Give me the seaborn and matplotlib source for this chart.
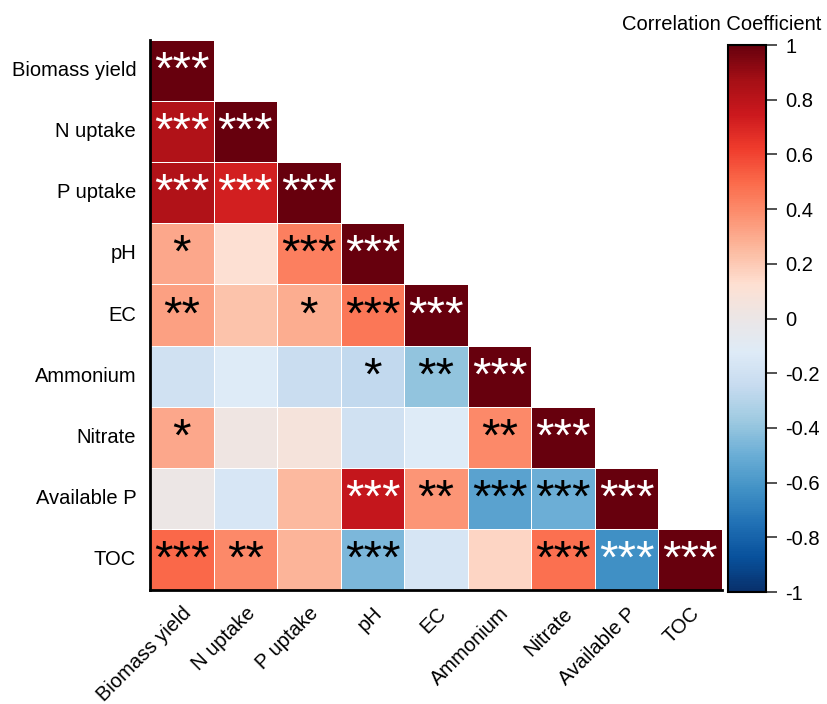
import numpy as np
import pandas as pd
import matplotlib
matplotlib.use("Agg")
import matplotlib.pyplot as plt
from matplotlib.colors import LinearSegmentedColormap
import seaborn as sns

variables = ["Biomass yield", "N uptake", "P uptake", "pH", "EC",
             "Ammonium", "Nitrate", "Available P", "TOC"]

# Lower-triangle Pearson coefficients, one list per row
r_biomass = [1.0]
r_n_uptake = [0.83, 1.0]
r_p_uptake = [0.83, 0.72, 1.0]
r_ph = [0.31, 0.12, 0.43, 1.0]
r_ec = [0.33, 0.22, 0.29, 0.46, 1.0]
r_ammonium = [-0.20, -0.12, -0.23, -0.26, -0.40, 1.0]
r_nitrate = [0.31, 0.03, 0.07, -0.20, -0.12, 0.40, 1.0]
r_avail_p = [0.00, -0.16, 0.25, 0.77, 0.36, -0.55, -0.50, 1.0]
r_toc = [0.50, 0.40, 0.27, -0.46, -0.17, 0.16, 0.48, -0.63, 1.0]

# Significance stars, same layout
s_biomass = ["***"]
s_n_uptake = ["***", "***"]
s_p_uptake = ["***", "***", "***"]
s_ph = ["*", "", "***", "***"]
s_ec = ["**", "", "*", "***", "***"]
s_ammonium = ["", "", "", "*", "**", "***"]
s_nitrate = ["*", "", "", "", "", "**", "***"]
s_avail_p = ["", "", "", "***", "**", "***", "***", "***"]
s_toc = ["***", "**", "", "***", "", "", "***", "***", "***"]

cbar_ticks = [-1, -0.8, -0.6, -0.4, -0.2, 0, 0.2, 0.4, 0.6, 0.8, 1]
cbar_labels = ["-1", "-0.8", "-0.6", "-0.4", "-0.2", "0",
               "0.2", "0.4", "0.6", "0.8", "1"]

r_rows = [r_biomass, r_n_uptake, r_p_uptake, r_ph, r_ec,
          r_ammonium, r_nitrate, r_avail_p, r_toc]
s_rows = [s_biomass, s_n_uptake, s_p_uptake, s_ph, s_ec,
          s_ammonium, s_nitrate, s_avail_p, s_toc]

n = len(variables)
corr = np.full((n, n), np.nan)
for i, row in enumerate(r_rows):
    for j, v in enumerate(row):
        corr[i, j] = v
        corr[j, i] = v
df = pd.DataFrame(corr, index=variables, columns=variables)
mask = np.triu(np.ones((n, n), dtype=bool), k=1)

# Diverging map: Blues (negative) -> neutral grey -> Reds (positive)
palette = ['#08306b', '#08519c', '#2171b5', '#4292c6', '#6baed6', '#9ecae1',
           '#c6dbef', '#deebf7', '#ebe6e6', '#fee0d2', '#fcbba1', '#fc9272',
           '#fb6a4a', '#ef3b2c', '#cb181d', '#a50f15', '#67000d']
cmap = LinearSegmentedColormap.from_list("blue_red", palette, N=256)

sns.set_theme(style="white")
plt.rcParams['font.family'] = ['Liberation Sans', 'DejaVu Sans']

fig = plt.figure(figsize=(8.27, 7.04), dpi=100)
ax = fig.add_axes([0.1814, 0.162, 0.6916, 0.781])
cax = fig.add_axes([0.880, 0.159, 0.046, 0.777])

sns.heatmap(df, mask=mask, cmap=cmap, vmin=-1, vmax=1, ax=ax, cbar_ax=cax,
            linewidths=0.6, linecolor='white', square=False,
            cbar_kws={'ticks': cbar_ticks})

for i, row in enumerate(s_rows):
    for j, stars in enumerate(row):
        if not stars:
            continue
        color = 'white' if abs(r_rows[i][j]) > 0.6 else 'black'
        ax.text(j + 0.5, i + 0.52, stars, ha='center', va='center',
                fontsize=34, color=color)

ax.set_xlabel("")
ax.set_ylabel("")
ax.set_xticklabels(variables, rotation=45, ha='right', rotation_mode='anchor',
                   fontsize=14.5, color='black')
ax.set_yticklabels(variables, rotation=0, fontsize=14.5, color='black')
ax.tick_params(axis='both', length=0, pad=10)
for side in ['left', 'bottom']:
    ax.spines[side].set_visible(True)
    ax.spines[side].set_color('black')
    ax.spines[side].set_linewidth(2)

cax.set_yticks(cbar_ticks)
cax.set_yticklabels(cbar_labels)
cax.tick_params(axis='y', length=8, width=1.2, color='#333333', direction='out',
                labelsize=14.5, labelcolor='black', right=True, pad=6)
cbar = ax.collections[0].colorbar
cbar.outline.set_visible(True)
cbar.outline.set_edgecolor('black')
cbar.outline.set_linewidth(1.5)
fig.text(722 / 827, 1 - 25 / 704, "Correlation Coefficient", ha='center',
         va='center', fontsize=14.5, color='black')

fig.savefig("out.png", dpi=100)
